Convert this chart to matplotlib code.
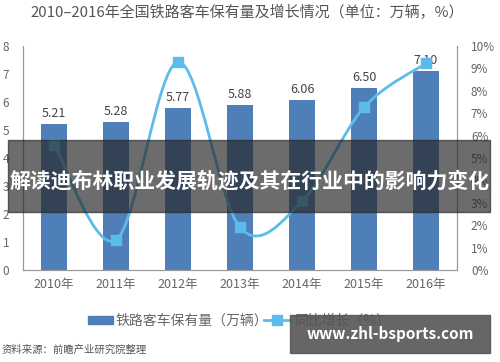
import matplotlib.pyplot as plt
from matplotlib.path import Path
from matplotlib.patches import PathPatch, Rectangle
from matplotlib.ticker import FuncFormatter
import numpy as np

plt.rcParams['font.family'] = ['Noto Sans CJK SC', 'DejaVu Sans']

years = ['2010年', '2011年', '2012年', '2013年', '2014年', '2015年', '2016年']
stock = [5.21, 5.28, 5.77, 5.88, 6.06, 6.50, 7.10]
growth = [5.6, 1.34, 9.28, 1.9, 3.06, 7.26, 9.23]

bar_color = '#4f7fb8'
line_color = '#5bbcec'
grey = '#666666'

fig = plt.figure(figsize=(5, 3.62), dpi=100)
ax = fig.add_axes([0.046, 0.254, 0.868, 0.619])
ax2 = ax.twinx()

x = np.arange(len(years))
ax.bar(x, stock, width=0.42, color=bar_color, zorder=2)
for xi, v in zip(x, stock):
    ax.text(xi, v + 0.15, f'{v:.2f}', ha='center', va='bottom', fontsize=9, color='#444444')

ax.set_xlim(-0.5, 6.5)
ax.set_ylim(0, 8)
ax.set_yticks(range(0, 9))
ax.set_xticks(x)
ax.set_xticklabels(years, fontsize=9, color=grey)
ax.tick_params(axis='y', labelsize=8.5, colors=grey, length=0, pad=10)
ax.tick_params(axis='x', length=0, pad=6)

ax2.set_ylim(0, 10)
ax2.set_yticks(range(0, 11))
ax2.yaxis.set_major_formatter(FuncFormatter(lambda v, p: f'{int(v)}%'))
ax2.tick_params(axis='y', labelsize=8.5, colors=grey, length=0, pad=10)

for a in (ax, ax2):
    for s in a.spines.values():
        s.set_color('#999999')
        s.set_linewidth(0.8)
    a.spines['top'].set_visible(False)

# smoothed line through the growth points (cardinal spline as bezier path)
pts = np.column_stack([x, growth])
verts = [tuple(pts[0])]
codes = [Path.MOVETO]
t = 1 / 6
for i in range(len(pts) - 1):
    p0 = pts[max(i - 1, 0)]
    p1 = pts[i]
    p2 = pts[i + 1]
    p3 = pts[min(i + 2, len(pts) - 1)]
    c1 = p1 + (p2 - p0) * t
    c2 = p2 - (p3 - p1) * t
    verts += [tuple(c1), tuple(c2), tuple(p2)]
    codes += [Path.CURVE4] * 3
ax2.add_patch(PathPatch(Path(verts, codes), fill=False, edgecolor=line_color, lw=2, zorder=3))
ax2.plot(x, growth, ls='none', marker='s', ms=7, color=line_color, zorder=4)

fig.text(0.06, 0.965, '2010–2016年全国铁路客车保有量及增长情况（单位：万辆，%）',
         fontsize=10.8, color='#555555', va='center')

# legend
fig.patches.append(Rectangle((0.176, 0.104), 0.05, 0.022, transform=fig.transFigure,
                             color=bar_color))
fig.text(0.232, 0.115, '铁路客车保有量（万辆）', fontsize=10, color=grey, va='center')
fig.lines.append(plt.Line2D([0.528, 0.58], [0.115, 0.115], transform=fig.transFigure,
                            color=line_color, lw=2))
fig.lines.append(plt.Line2D([0.554], [0.115], transform=fig.transFigure,
                            color=line_color, marker='s', ms=7))
fig.text(0.59, 0.115, '同比增长（%）', fontsize=10, color=grey, va='center')

fig.text(0.003, 0.033, '资料来源：前瞻产业研究院整理', fontsize=7.5, color='#555555', va='center')

# overlay banners
fig.patches.append(Rectangle((0.016, 0.414), 0.964, 0.199, transform=fig.transFigure,
                             color='#262626', alpha=0.68, zorder=10))
fig.text(0.5, 0.5, '解读迪布林职业发展轨迹及其在行业中的影响力变化', fontsize=15,
         fontweight='bold', color='white', ha='center', va='center', zorder=11)
fig.patches.append(Rectangle((0.58, 0.025), 0.40, 0.105, transform=fig.transFigure,
                             color='#555555', alpha=0.9, zorder=10))
fig.text(0.78, 0.076, 'www.zhl-bsports.com', fontsize=11, fontweight='bold',
         color='white', ha='center', va='center', zorder=11)

fig.savefig('out.png', dpi=100)
